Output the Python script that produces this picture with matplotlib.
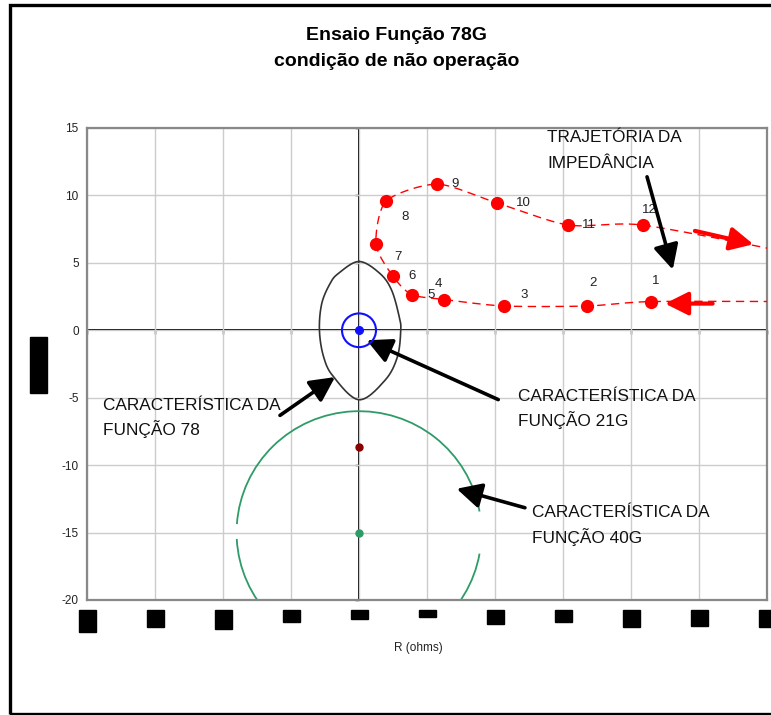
import numpy as np
import matplotlib
matplotlib.use('Agg')
import matplotlib.pyplot as plt
from matplotlib.patches import Circle, Arc, Rectangle
from matplotlib.transforms import blended_transform_factory

plt.rcParams['font.family'] = ['Liberation Sans', 'DejaVu Sans']
plt.rcParams['axes.unicode_minus'] = False

# impedance trajectory, points 1..12 (R, X in ohms)
traj_R = [21.47, 16.78, 10.64, 6.28, 3.87, 2.48, 1.25, 1.99, 5.76, 10.18, 15.40, 20.90]
traj_X = [2.13, 1.80, 1.80, 2.28, 2.65, 4.03, 6.37, 9.58, 10.84, 9.43, 7.80, 7.80]
traj_labels = [str(i) for i in range(1, 13)]
# where the dashed path comes in from / goes out to (outside the view)
entry_R, entry_X = 32.0, 2.13
exit_R, exit_X = 32.0, 5.70

# function 78 characteristic (lens), sampled outline
lens_R = [0.0, 1.54, 2.40, 2.96, 3.07, 2.82, 1.91, 0.0, -1.88, -2.60, -2.91, -2.74, -2.13, -1.52]
lens_X = [5.10, 4.21, 2.97, 0.99, 0.0, -1.98, -3.71, -5.15, -3.44, -1.98, 0.0, 1.98, 3.46, 4.21]

# function 21G circle
z21_center = (0.0, 0.0)
z21_radius = 1.25
# function 40G offset mho circle
z40_center = (0.0, -15.0)
z40_radius = 9.0
z40_gaps = [(-10.0, 10.0), (176.0, 183.0)]   # degrees where the trace is missing
z40_inner = (0.0, -8.67)

x_ticks = [-20, -15, -10, -5, 0, 5, 10, 15, 20, 25, 30]
y_ticks = [-20, -15, -10, -5, 0, 5, 10, 15]


def smooth(xs, ys, n=24, closed=False, tension=1.0):
    # cardinal (Catmull-Rom for tension=1) curve through the given points
    p = np.column_stack([xs, ys]).astype(float)
    if closed:
        p = np.vstack([p[-1], p, p[0], p[1]])
    else:
        p = np.vstack([p[0], p, p[-1]])
    t = np.linspace(0, 1, n, endpoint=False)[:, None]
    h00 = 2 * t ** 3 - 3 * t ** 2 + 1
    h10 = t ** 3 - 2 * t ** 2 + t
    h01 = -2 * t ** 3 + 3 * t ** 2
    h11 = t ** 3 - t ** 2
    out = []
    for i in range(1, len(p) - 2):
        p0, p1, p2, p3 = p[i - 1], p[i], p[i + 1], p[i + 2]
        m1 = tension * (p2 - p0) / 2
        m2 = tension * (p3 - p1) / 2
        out.append(h00 * p1 + h10 * m1 + h01 * p2 + h11 * m2)
    out.append(p[-2][None, :])
    return np.vstack(out)


fig = plt.figure(figsize=(7.71, 7.15), dpi=100)
W, H = 771, 715
ax = fig.add_axes([87 / W, 1 - 600 / H, 680 / W, 472 / H])
ax.set_xlim(-20, 30)
ax.set_ylim(-20, 15)
ax.set_xticks(x_ticks)
ax.set_yticks(y_ticks)
ax.grid(color='#cccccc', lw=1.0)
ax.set_axisbelow(True)
for s in ax.spines.values():
    s.set_color('#888888')
    s.set_linewidth(1.6)
ax.tick_params(length=0, labelsize=8.5, pad=6, labelcolor='#222222')
ax.tick_params(axis='x', labelbottom=False)

# crossing axes through the origin
sx = ax.secondary_xaxis(0, transform=ax.transData)
sx.set_xticks(x_ticks)
sx.tick_params(direction='out', length=3, width=1, labelbottom=False, color='black')
sx.spines['bottom'].set_color('black')
sx.spines['bottom'].set_linewidth(1.4)
sy = ax.secondary_yaxis(0, transform=ax.transData)
sy.set_yticks(y_ticks)
sy.tick_params(direction='out', length=3, width=1, labelleft=False, color='black')
sy.spines['left'].set_color('black')
sy.spines['left'].set_linewidth(1.4)

# 40G circle (drawn in pieces around the gaps)
g = '#2e9b68'
ax.add_patch(Arc(z40_center, 2 * z40_radius, 2 * z40_radius,
                 theta1=z40_gaps[0][1], theta2=z40_gaps[1][0], color=g, lw=1.3))
ax.add_patch(Arc(z40_center, 2 * z40_radius, 2 * z40_radius,
                 theta1=z40_gaps[1][1], theta2=360 + z40_gaps[0][0], color=g, lw=1.3))
ax.plot(*z40_center, 'o', color=g, ms=5, zorder=4)
ax.plot(*z40_inner, 'o', color='#8b0000', ms=5, zorder=4)

# 78 lens
lens = smooth(lens_R, lens_X, closed=True)
ax.plot(lens[:, 0], lens[:, 1], color='#333333', lw=1.2)

# 21G circle
ax.add_patch(Circle(z21_center, z21_radius, fill=False, ec='#1010ff', lw=1.5, zorder=4))
ax.plot(*z21_center, 'o', color='#1010ff', ms=5.5, zorder=5)

# trajectory
path = smooth([entry_R] + traj_R + [exit_R], [entry_X] + traj_X + [exit_X], tension=0.75)
ax.plot(path[:, 0], path[:, 1], color='red', lw=1.0, dashes=(6, 4), zorder=3)
ax.plot(traj_R, traj_X, 'o', color='red', ms=8.5, zorder=5)
label_offsets = [(5, 21), (6, 23), (20, 11), (-6, 16), (19, 0), (19, 0),
                 (22, -13), (19, -16), (18, 0), (26, 0), (21, 0), (6, 15)]
for r, x, lbl, off in zip(traj_R, traj_X, traj_labels, label_offsets):
    ax.annotate(lbl, (r, x), xytext=off, textcoords='offset pixels',
                ha='center', va='center', fontsize=9.5, color='#222222')

# notes (first-line baseline) and arrows
notes = [(['TRAJETÓRIA DA', 'IMPEDÂNCIA'], 13.84, 13.94),
         (['CARACTERÍSTICA DA', 'FUNÇÃO 78'], -18.8, -5.89),
         (['CARACTERÍSTICA DA', 'FUNÇÃO 21G'], 11.67, -5.25),
         (['CARACTERÍSTICA DA', 'FUNÇÃO 40G'], 12.7, -13.86)]
line_step = 25.3 / 13.47
for lines, r, x in notes:
    for i, line in enumerate(lines):
        ax.text(r, x - i * line_step, line, fontsize=12.4, va='baseline', ha='left',
                color='#111111')

black_arrows = [((21.18, 11.38), (23.07, 4.50)),
                ((-5.81, -6.31), (-1.76, -3.47)),
                ((10.24, -5.14), (0.57, -0.74)),
                ((12.20, -13.16), (7.18, -11.75))]
for tail, tip in black_arrows:
    ax.annotate('', xy=tip, xytext=tail,
                arrowprops=dict(arrowstyle='-|>,head_length=0.75,head_width=0.38',
                                lw=2.6, color='black', shrinkA=0, shrinkB=0,
                                mutation_scale=20))
red_arrows = [((26.0, 1.98), (22.5, 1.98)),
              ((24.7, 7.37), (29.0, 6.38))]
for tail, tip in red_arrows:
    ax.annotate('', xy=tip, xytext=tail,
                arrowprops=dict(arrowstyle='-|>,head_length=0.7,head_width=0.35',
                                lw=3.0, color='red', shrinkA=0, shrinkB=0,
                                mutation_scale=20))

# unrendered tick-label glyphs below the plot
box_h = [22, 17, 19, 12, 9, 7, 14, 12, 17, 16, 17]
trans = blended_transform_factory(ax.transData, ax.transAxes)
for xt, h in zip(x_ticks, box_h):
    ax.add_patch(Rectangle((xt - 8.5 / 13.6, -10 / 472 - h / 472), 17 / 13.6, h / 472,
                           transform=trans, color='black', clip_on=False))
fig.patches.append(Rectangle((30 / W, 1 - 393 / H), 17 / W, 56 / H,
                             transform=fig.transFigure, color='black'))

ax.set_xlabel('R (ohms)', fontsize=8.5, color='#222222')
ax.xaxis.set_label_coords(0.487, -0.088)

fig.text(397 / W, 1 - 36 / H, 'Ensaio Função 78G', ha='center', va='center',
         fontsize=14, fontweight='bold')
fig.text(397 / W, 1 - 62 / H, 'condição de não operação', ha='center', va='center',
         fontsize=14, fontweight='bold')

# outer chart frame (open on the right)
fig.patches.append(Rectangle((10 / W, 1 - 713.5 / H), 800 / W, 708.5 / H,
                             transform=fig.transFigure, fill=False, ec='black', lw=2.4))

fig.savefig('out.png', dpi=100)
